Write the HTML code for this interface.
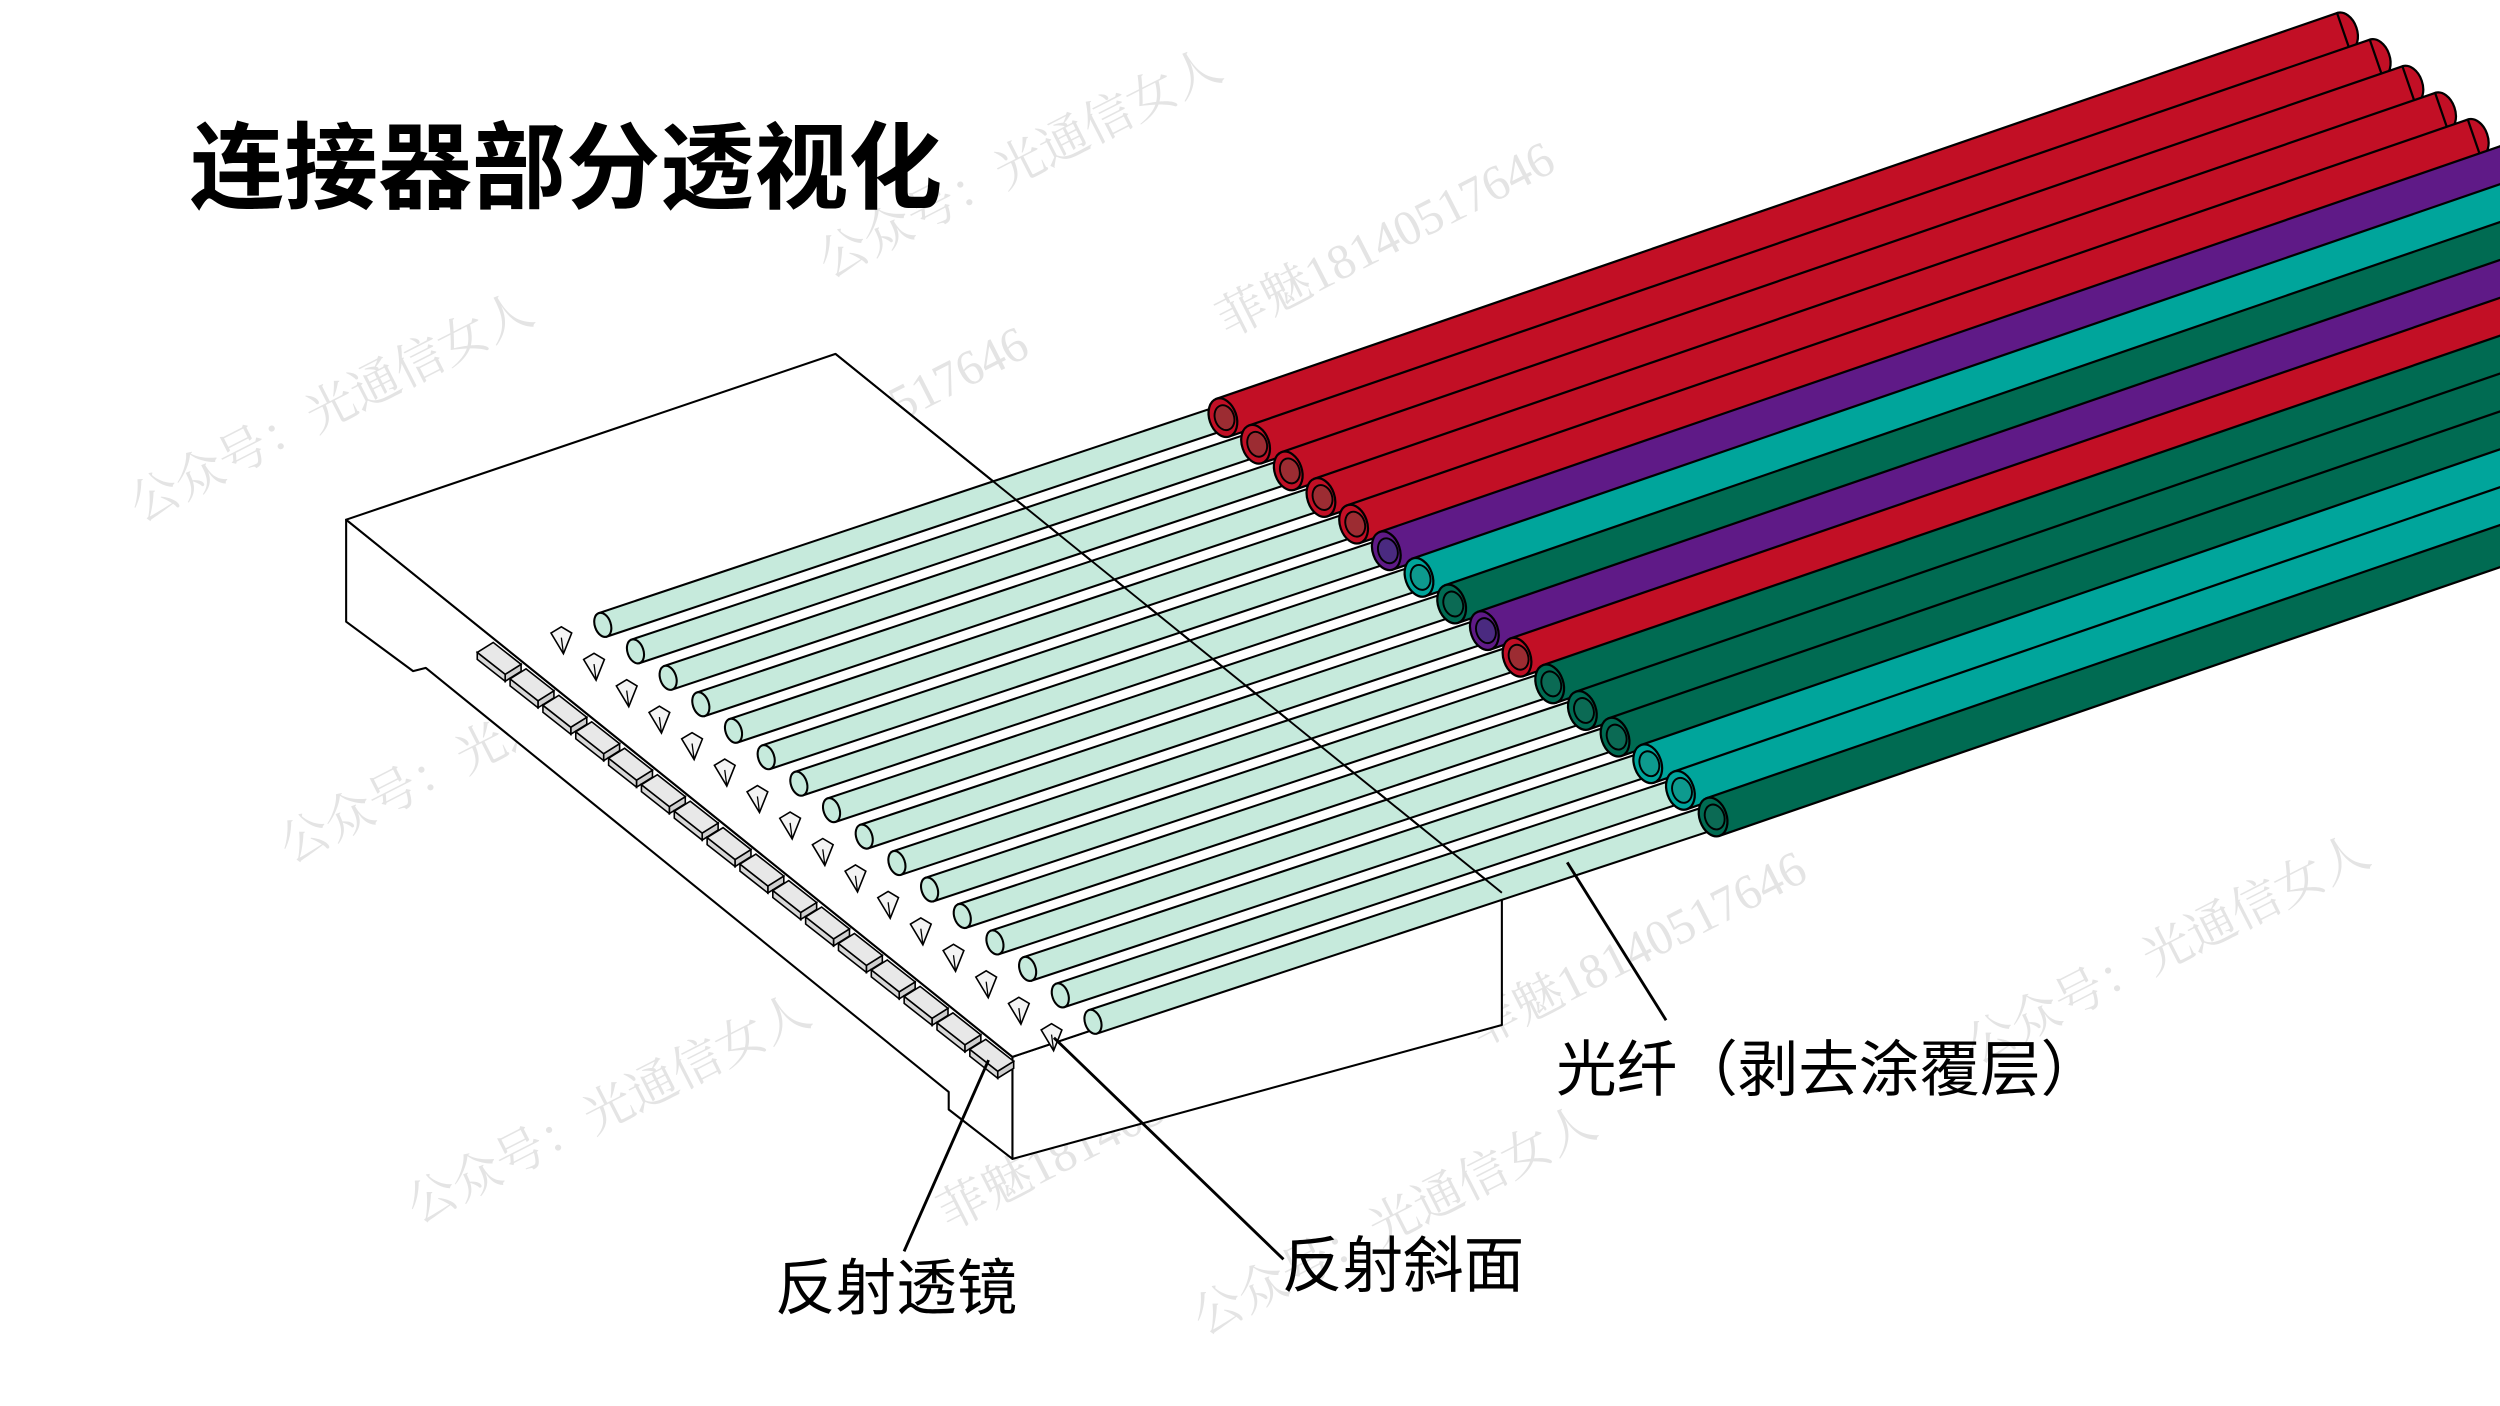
<!DOCTYPE html>
<html><head><meta charset="utf-8"><style>
html,body{margin:0;padding:0;background:#fff;}
svg{display:block}
</style></head><body>
<svg id="s" width="2500" height="1406" viewBox="0 0 1568 882" xmlns="http://www.w3.org/2000/svg">
<rect width="1568" height="882" fill="#fff"/>
<g font-family="'Liberation Serif','Noto Serif CJK SC',serif" font-size="31" fill="#e4e4e4">
<text transform="translate(88,328) rotate(-27)">公众号：光通信女人</text>
<text transform="translate(440,328) rotate(-27)">菲魅18140517646</text>
<text transform="translate(520,175) rotate(-27)">公众号：光通信女人</text>
<text transform="translate(770,212) rotate(-27)">菲魅18140517646</text>
<text transform="translate(182,542) rotate(-27)">公众号：光通信女人</text>
<text transform="translate(262,768) rotate(-27)">公众号：光通信女人</text>
<text transform="translate(595,772) rotate(-27)">菲魅18140517646</text>
<text transform="translate(755,838) rotate(-27)">公众号：光通信女人</text>
<text transform="translate(928,657) rotate(-27)">菲魅18140517646</text>
<text transform="translate(1240,668) rotate(-27)">公众号：光通信女人</text>
</g>
<g id="block" stroke="#000" stroke-width="1.3" fill="#fff" stroke-linejoin="round">
<polygon points="217,326 217,390 259,421 267,419 595,685 595,696 635,727 635,663"/>
<polygon points="635,663 942,560 942,643 635,727"/>
<polygon points="217,326 524,222 942,560 635,663"/>
</g>
<g id="lenses"></g>
<g id="fibers"></g>
<line x1="524" y1="222" x2="942" y2="560" stroke="#000" stroke-width="1.2"/>
<g id="tubes"></g>
<g stroke="#000" stroke-width="1.8" fill="none">
<line x1="1045" y1="640" x2="983" y2="541"/>
<line x1="567" y1="785" x2="620" y2="665"/>
<line x1="805" y1="790" x2="661" y2="651"/>
</g>
<text x="119" y="126" font-family="'Liberation Sans','Noto Sans CJK SC',sans-serif" font-weight="bold" font-size="59">连接器部分透视化</text>
<g font-family="'Liberation Sans','Noto Sans CJK SC',sans-serif" font-size="38" fill="#000">
<text x="976" y="684">光纤（剥去涂覆层）</text>
<text x="486" y="821">反射透镜</text>
<text x="804" y="807">反射斜面</text>
</g>
</svg>
<script>
var NS="http://www.w3.org/2000/svg";
function el(p,t,a){var e=document.createElementNS(NS,t);for(var k in a)e.setAttribute(k,a[k]);p.appendChild(e);return e;}
var ux=0.9455,uy=-0.3255,nx=0.3255,ny=0.9455,ang=71;
var L=document.getElementById('lenses'),F=document.getElementById('fibers'),T=document.getElementById('tubes');
function P(x,y,pts,s){return pts.map(function(p){return (x+p[0]*s)+','+(y+p[1]*s);}).join(' ');}
for(var i=0;i<16;i++){
 var lx=313+20.6*i,ly=413+16.6*i,s=1.25;
 el(L,'polygon',{points:P(lx,ly,[[3,8],[11,3],[11,6.5],[3,11.5]],s),fill:'#cfcfcf',stroke:'#000','stroke-width':1});
 el(L,'polygon',{points:P(lx,ly,[[-11,-3],[3,8],[3,11.5],[-11,0.5]],s),fill:'#d8d8d8',stroke:'#000','stroke-width':1});
 el(L,'polygon',{points:P(lx,ly,[[-11,-3],[-3,-8],[11,3],[3,8]],s),fill:'#e8e8e8',stroke:'#000','stroke-width':1});
 var mx=352+20.5*i,my=401+16.6*i,m=1.3;
 el(L,'polygon',{points:P(mx,my,[[-5,-3],[0,-6],[5,-3],[1,7]],m),fill:'#f4f4f4',stroke:'#000','stroke-width':1});
 el(L,'line',{x1:mx,y1:my-1,x2:mx+1.3,y2:my+9,stroke:'#000','stroke-width':0.8});
}
for(var i=0;i<16;i++){
 var fx=378+20.5*i,fy=392+16.6*i,ex=767+20.5*i,ey=262+16.7*i,r=7.8;
 var g=el(F,'g',{});
 el(g,'polygon',{points:(fx+r*nx)+','+(fy+r*ny)+' '+(ex+r*nx)+','+(ey+r*ny)+' '+(ex-r*nx)+','+(ey-r*ny)+' '+(fx-r*nx)+','+(fy-r*ny),fill:'#c6eadc',stroke:'#000','stroke-width':1.3});
 el(g,'ellipse',{cx:fx,cy:fy,rx:r,ry:5,transform:'rotate('+ang+' '+fx+' '+fy+')',fill:'#c6eadc',stroke:'#000','stroke-width':1.3});
}
var cols=['r','r','r','r','r','p','t','g','p','r','g','g','g','t','t','g'];
var C={r:['#c20f25','#9c2c32'],p:['#5f1a87','#4a2a80'],t:['#00a59b','#0d9a8e'],g:['#006b52','#0b6a54']};
for(var i=0;i<16;i++){
 var fx=767+20.5*i,fy=262+16.7*i,bx=fx+703,by=fy-242,r=12.5,c=C[cols[i]];
 var g=el(T,'g',{});
 el(g,'ellipse',{cx:bx,cy:by,rx:r,ry:8.5,transform:'rotate('+ang+' '+bx+' '+by+')',fill:c[0],stroke:'#000','stroke-width':1.4});
 el(g,'polygon',{points:(fx+r*nx)+','+(fy+r*ny)+' '+(bx+r*nx)+','+(by+r*ny)+' '+(bx-r*nx)+','+(by-r*ny)+' '+(fx-r*nx)+','+(fy-r*ny),fill:c[0],stroke:'#000','stroke-width':1.4});
 el(g,'ellipse',{cx:fx,cy:fy,rx:r,ry:8.5,transform:'rotate('+ang+' '+fx+' '+fy+')',fill:c[0],stroke:'#000','stroke-width':1.4});
 el(g,'ellipse',{cx:fx+1,cy:fy,rx:8,ry:6,transform:'rotate('+ang+' '+(fx+1)+' '+fy+')',fill:c[1],stroke:'#000','stroke-width':1.2});
}
</script>
</body></html>
